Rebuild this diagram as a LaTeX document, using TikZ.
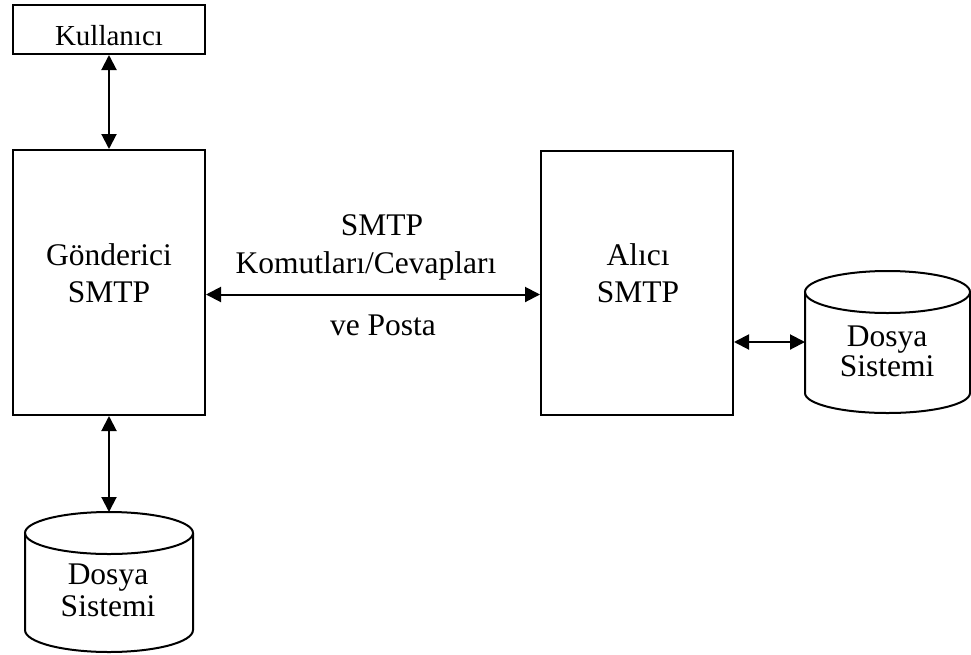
\documentclass[tikz,border=0pt]{standalone}
\usepackage{fontspec}
\setmainfont{Liberation Serif}
\usetikzlibrary{arrows.meta}
\begin{document}
\begin{tikzpicture}[x=1pt,y=-1pt,
  box/.style={draw, line width=2pt, inner sep=0pt},
  link/.style={line width=2pt,
    {Triangle[length=15pt,width=15pt]}-{Triangle[length=15pt,width=15pt]}},
  drum/.style={line width=2pt},
  txt/.style={inner sep=0pt, align=center, font=\fontsize{31.5}{37}\selectfont}]
\useasboundingbox (0,0) rectangle (971,654);

% boxes
\node[box, minimum width=192pt, minimum height=49pt] (kul) at (109,29.5) {};
\node[txt, anchor=base, font=\fontsize{29}{34}\selectfont] (kultxt) at (109,45) {Kullanıcı};
\node[box, minimum width=192pt, minimum height=265pt] (gon) at (109,282.5) {};
\node[txt] (gontxt) at (109,272.8) {Gönderici\\SMTP};
\node[box, minimum width=192pt, minimum height=264pt] (ali) at (637,283) {};
\node[txt] (alitxt) at (638,272.8) {Alıcı\\SMTP};

% file system drums
\draw[drum] (805,292) -- (805,393)
  arc[start angle=180, end angle=0, x radius=82.5, y radius=20] -- (970,292);
\draw[drum] (887.5,292) ellipse [x radius=82.5, y radius=21];
\node[txt, font=\fontsize{31.5}{30}\selectfont] (drtxt) at (887,351.5) {Dosya\\Sistemi};
\coordinate (drw) at (805,342);

\draw[drum] (25,533) -- (25,630)
  arc[start angle=180, end angle=0, x radius=84, y radius=22] -- (193,533);
\draw[drum] (109,533) ellipse [x radius=84, y radius=21];
\node[txt, font=\fontsize{31.5}{32}\selectfont] (dltxt) at (108,590.5) {Dosya\\Sistemi};
\coordinate (dln) at (109,512);

% link labels
\node[txt, anchor=base] (l1) at (382,235) {SMTP};
\node[txt, anchor=base] (l2) at (366,273) {Komutları/Cevapları};
\node[txt, anchor=base] (l3) at (383,335) {ve Posta};
\coordinate (lk) at (0,294.5);

% connectors
\draw[link] (kul) -- (gon);
\draw[link] (gon.east |- lk) -- (ali.west |- lk);
\draw[link] (ali.east |- drw) -- (drw);
\draw[link] (gon.south) -- (dln);
\end{tikzpicture}
\end{document}
